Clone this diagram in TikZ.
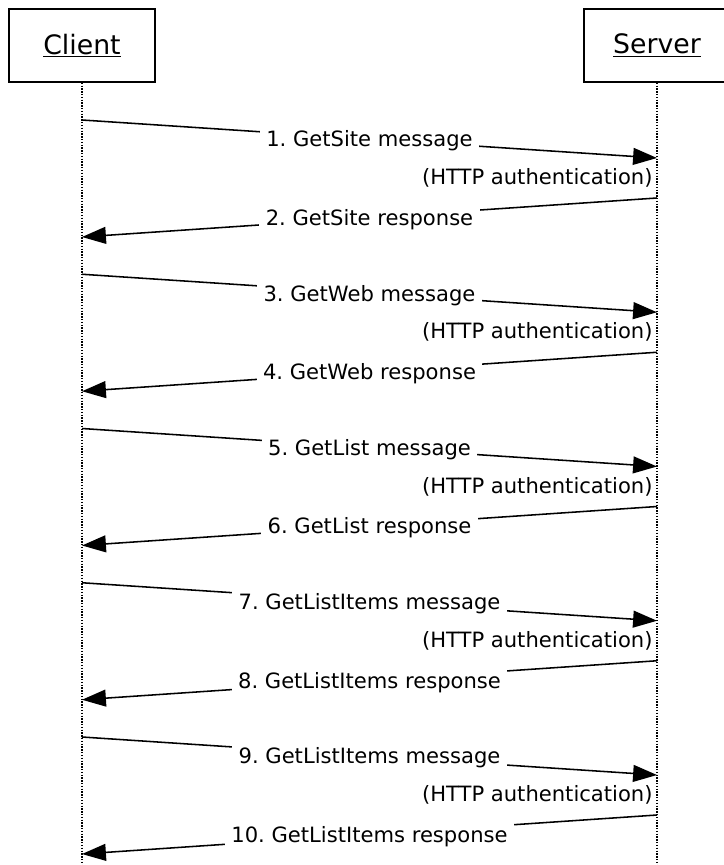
\documentclass[tikz,border=0pt]{standalone}
\usepackage{fontspec}
\setmainfont{DejaVu Sans}
\usepackage{tikz}
\usetikzlibrary{arrows.meta}
\frenchspacing

\tikzset{
    actor/.style={draw, line width=1pt, minimum width=3.65cm, minimum height=1.825cm, inner sep=0pt, font=\fontsize{19}{23}\selectfont},
    lifeline/.style={line width=0.9pt, dash pattern=on 1pt off 1pt},
    msg/.style={line width=1.1pt, -{Triangle[length=17pt, width=12pt]}},
    lbl/.style={fill=white, inner sep=4.5pt, yshift=-1.5pt},
    auth/.style={anchor=east, inner sep=3pt}
}

\begin{document}
\begin{tikzpicture}[x=0.025cm, y=-0.025cm, every node/.style={font=\fontsize{15}{18}\selectfont}]
            \useasboundingbox (0,0) rectangle (723,865);

            \node[actor] (client) at (82,45.5) {\underline{Client}};
            \node[actor] (server) at (657,45.5) {\underline{Server}};
            \coordinate (clientend) at (82,865);
            \coordinate (serverend) at (657,865);
            \draw[lifeline] (client.south) -- (clientend);
            \draw[lifeline] (server.south) -- (serverend);

            \foreach \req/\op [count=\k from 0] in {1/GetSite, 3/GetWeb, 5/GetList, 7/GetListItems, 9/GetListItems} {
                \pgfmathsetmacro\y{120+154.25*\k}
                \pgfmathtruncatemacro\res{\req+1}
                \coordinate (c\req) at (82,\y);
                \coordinate (s\req) at (657,\y+38);
                \coordinate (a\req) at (657,\y+58);
                \coordinate (s\res) at (657,\y+78);
                \coordinate (c\res) at (82,\y+117);
                \draw[msg] (c\req) -- node[lbl] (m\req) {\req. \op\ message} (s\req);
                \node[auth] (auth\req) at (a\req) {(HTTP authentication)};
                \draw[msg] (s\res) -- node[lbl] (m\res) {\res. \op\ response} (c\res);
            }
        \end{tikzpicture}
\end{document}
